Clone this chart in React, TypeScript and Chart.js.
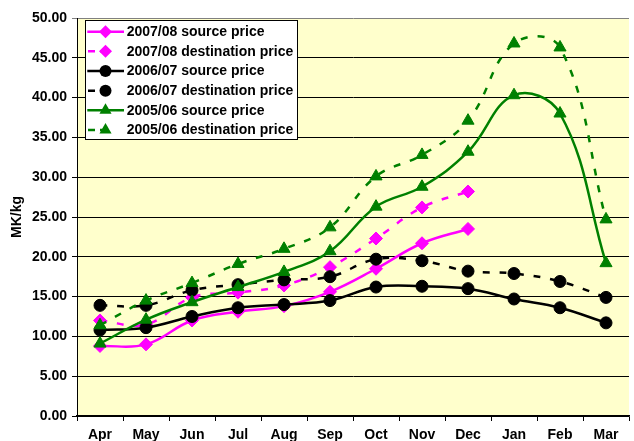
import React, { useEffect, useRef } from 'react';
import { Chart, registerables } from 'chart.js';

Chart.register(...registerables);

const months = ['Apr', 'May', 'Jun', 'Jul', 'Aug', 'Sep', 'Oct', 'Nov', 'Dec', 'Jan', 'Feb', 'Mar'];

const src0708 = [8.8, 9.0, 12.0, 13.1, 13.8, 15.6, 18.5, 21.7, 23.5, null, null, null];
const dst0708 = [12.0, 11.5, 14.9, 15.5, 16.4, 18.7, 22.3, 26.2, 28.2, null, null, null];
const src0607 = [10.8, 11.1, 12.5, 13.6, 14.0, 14.5, 16.2, 16.3, 16.0, 14.7, 13.6, 11.7];
const dst0607 = [13.9, 13.9, 15.8, 16.5, 17.1, 17.5, 19.7, 19.5, 18.2, 17.9, 16.9, 14.9];
const src0506 = [9.1, 12.1, 14.3, 16.2, 18.1, 20.7, 26.3, 28.8, 33.2, 40.3, 38.0, 19.2];
const dst0506 = [11.4, 14.5, 16.7, 19.1, 21.0, 23.7, 30.1, 32.8, 37.1, 46.8, 46.3, 24.7];

const seriesNames = [
  '2007/08 source price',
  '2007/08 destination price',
  '2006/07 source price',
  '2006/07 destination price',
  '2005/06 source price',
  '2005/06 destination price',
];

const yTitle = 'MK/kg';

const MAGENTA = '#FF00FF';
const BLACK = '#000000';
const GREEN = '#008000';
const FONT = 'Arial, "Liberation Sans", sans-serif';
const DASH = [7, 10];

type Spec = { label: string; data: (number | null)[]; color: string; dash: number[]; style: string; r: number };

function drawMarker(ctx: CanvasRenderingContext2D, style: string, x: number, y: number, r: number, color: string) {
  ctx.save();
  ctx.fillStyle = color;
  ctx.beginPath();
  if (style === 'rectRot') {
    ctx.moveTo(x, y - r);
    ctx.lineTo(x + r, y);
    ctx.lineTo(x, y + r);
    ctx.lineTo(x - r, y);
    ctx.closePath();
  } else if (style === 'triangle') {
    const h = r * Math.sqrt(3) / 2;
    ctx.moveTo(x, y - r);
    ctx.lineTo(x + h, y + r / 2);
    ctx.lineTo(x - h, y + r / 2);
    ctx.closePath();
  } else {
    ctx.arc(x, y, r, 0, Math.PI * 2);
  }
  ctx.fill();
  ctx.restore();
}

export default function App() {
  const ref = useRef<HTMLCanvasElement>(null);

  useEffect(() => {
    const canvas = ref.current!;
    const specs: Spec[] = [
      { label: seriesNames[0], data: src0708, color: MAGENTA, dash: [], style: 'rectRot', r: 6.5 },
      { label: seriesNames[1], data: dst0708, color: MAGENTA, dash: DASH, style: 'rectRot', r: 6.5 },
      { label: seriesNames[2], data: src0607, color: BLACK, dash: [], style: 'circle', r: 6 },
      { label: seriesNames[3], data: dst0607, color: BLACK, dash: DASH, style: 'circle', r: 6 },
      { label: seriesNames[4], data: src0506, color: GREEN, dash: [], style: 'triangle', r: 7 },
      { label: seriesNames[5], data: dst0506, color: GREEN, dash: DASH, style: 'triangle', r: 7 },
    ];

    const bgPlugin = {
      id: 'plotBg',
      beforeDraw(chart: any) {
        const { ctx, chartArea: a } = chart;
        ctx.save();
        ctx.fillStyle = '#FFFFCC';
        ctx.fillRect(a.left, a.top, a.right - a.left, a.bottom - a.top);
        ctx.restore();
      },
    };

    const legendPlugin = {
      id: 'excelLegend',
      afterDraw(chart: any) {
        const { ctx, chartArea: a } = chart;
        const x0 = a.left + 8;
        const y0 = a.top + 2;
        const w = 212;
        const h = 119;
        ctx.save();
        ctx.fillStyle = '#FFFFFF';
        ctx.fillRect(x0, y0, w, h);
        ctx.strokeStyle = '#000000';
        ctx.lineWidth = 1;
        ctx.strokeRect(Math.round(x0) + 0.5, Math.round(y0) + 0.5, w, h);
        specs.forEach((s, i) => {
          const y = y0 + 11.7 + i * 19.65;
          ctx.strokeStyle = s.color;
          ctx.lineWidth = 2.5;
          ctx.beginPath();
          if (s.dash.length) {
            ctx.setLineDash([7, 5]);
            ctx.moveTo(x0 + 3, y);
            ctx.lineTo(x0 + 27, y);
          } else {
            ctx.setLineDash([]);
            ctx.moveTo(x0 + 2.3, y);
            ctx.lineTo(x0 + 39, y);
          }
          ctx.stroke();
          ctx.setLineDash([]);
          drawMarker(ctx, s.style, x0 + 20.5, y, s.r, s.color);
          ctx.fillStyle = '#000000';
          ctx.font = `bold 14px ${FONT}`;
          ctx.textBaseline = 'middle';
          ctx.textAlign = 'left';
          ctx.fillText(s.label, x0 + 41.7, y + 0.5);
        });
        // y-axis title
        ctx.translate(17, (a.top + a.bottom) / 2);
        ctx.rotate(-Math.PI / 2);
        ctx.font = `bold 14px ${FONT}`;
        ctx.textAlign = 'center';
        ctx.textBaseline = 'middle';
        ctx.fillStyle = '#000000';
        ctx.fillText(yTitle, 0, 0);
        ctx.restore();
      },
    };

    const chart = new Chart(canvas, {
      type: 'line',
      data: {
        labels: months,
        datasets: specs.map((s, i) => ({
          label: s.label,
          data: s.data,
          borderColor: s.color,
          backgroundColor: s.color,
          borderWidth: 2.5,
          borderDash: s.dash,
          pointStyle: s.style as any,
          pointRadius: s.r,
          pointBorderWidth: 1,
          pointBorderColor: s.color,
          pointBackgroundColor: s.color,
          tension: 0.4,
          fill: false,
          spanGaps: false,
          order: 5 - i,
        })),
      },
      options: {
        responsive: false,
        animation: false,
        devicePixelRatio: 1,
        layout: { padding: { top: 18, left: 0, right: 0, bottom: 0 } },
        plugins: {
          legend: { display: false },
          tooltip: { enabled: false },
          title: { display: false },
        },
        scales: {
          x: {
            type: 'category',
            offset: true,
            afterFit: (scale: any) => { scale.height = 34; },
            grid: {
              offset: true,
              drawOnChartArea: false,
              drawTicks: true,
              tickLength: 5,
              color: '#000000',
            },
            border: { color: '#000000', width: 1.5 },
            ticks: {
              color: '#000000',
              font: { family: FONT, size: 14, weight: 'bold' },
              padding: 6,
              maxRotation: 0,
              autoSkip: false,
            },
          },
          y: {
            min: 0,
            max: 50,
            afterFit: (scale: any) => { scale.width = 77; },
            grid: {
              color: (c: any) => (c.tick && c.tick.value === 50 ? '#808080' : '#000000'),
              lineWidth: 1,
              drawTicks: true,
              tickLength: 5,
            },
            border: { color: '#000000', width: 1 },
            ticks: {
              stepSize: 5,
              color: '#000000',
              font: { family: FONT, size: 14, weight: 'bold' },
              padding: 5,
              callback: (v: any) => Number(v).toFixed(2),
            },
          },
        },
      },
      plugins: [bgPlugin, legendPlugin],
    });

    return () => chart.destroy();
  }, []);

  return (
    <div style={{ position: 'fixed', left: 0, top: 0, width: 637, height: 450, background: '#FFFFFF' }}>
      <canvas ref={ref} width={637} height={450} style={{ display: 'block' }} />
    </div>
  );
}
